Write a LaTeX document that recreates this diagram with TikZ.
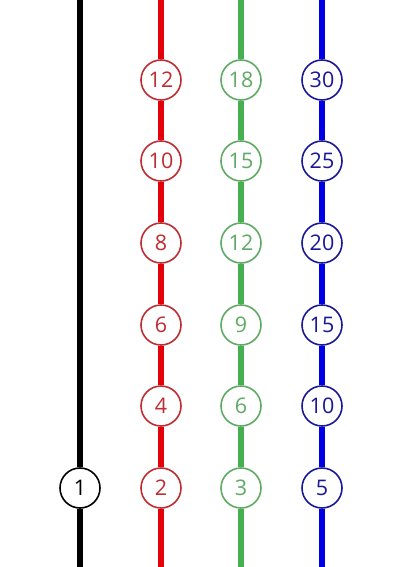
\documentclass[tikz,border=0pt]{standalone}
\usepackage{fontspec}
\setmainfont{Open Sans}
\usepackage{tikz}
\usetikzlibrary{calc}

\definecolor{lineblack}{RGB}{0,0,0}
\definecolor{linered}{RGB}{228,0,10}
\definecolor{linegreen}{RGB}{70,175,80}
\definecolor{lineblue}{RGB}{0,0,230}
\definecolor{ringred}{RGB}{190,45,50}
\definecolor{ringgreen}{RGB}{95,170,100}
\definecolor{ringblue}{RGB}{25,25,150}

\tikzset{
  stop/.style={circle, draw=#1, text=#1, fill=white, line width=1.6pt,
    minimum size=40pt, inner sep=0pt, font=\fontsize{21.5}{21.5}\selectfont},
  rail/.style={line width=5.5pt, draw=#1}
}

\begin{document}
\begin{tikzpicture}[x=1pt,y=-1pt]
    \useasboundingbox (0,0) rectangle (405,567);

    % ends of the rails
    \coordinate (ktop) at (80,0);   \coordinate (kbot) at (80,567);
    \coordinate (rtop) at (161,0);  \coordinate (rbot) at (161,567);
    \coordinate (gtop) at (241,0);  \coordinate (gbot) at (241,567);
    \coordinate (btop) at (322,0);  \coordinate (bbot) at (322,567);

    \node [stop=black] (k1) at (80,488) {1};

    \node [stop=ringred] (r12) at (161,80) {12};
    \node [stop=ringred] (r10) at (161,161) {10};
    \node [stop=ringred] (r8) at (161,243) {8};
    \node [stop=ringred] (r6) at (161,325) {6};
    \node [stop=ringred] (r4) at (161,406) {4};
    \node [stop=ringred] (r2) at (161,488) {2};

    \node [stop=ringgreen] (g18) at (241,80) {18};
    \node [stop=ringgreen] (g15) at (241,161) {15};
    \node [stop=ringgreen] (g12) at (241,243) {12};
    \node [stop=ringgreen] (g9) at (241,325) {9};
    \node [stop=ringgreen] (g6) at (241,406) {6};
    \node [stop=ringgreen] (g3) at (241,488) {3};

    \node [stop=ringblue] (b30) at (322,80) {30};
    \node [stop=ringblue] (b25) at (322,161) {25};
    \node [stop=ringblue] (b20) at (322,243) {20};
    \node [stop=ringblue] (b15) at (322,325) {15};
    \node [stop=ringblue] (b10) at (322,406) {10};
    \node [stop=ringblue] (b5) at (322,488) {5};

    \draw [rail=lineblack] (ktop) -- (k1) -- (kbot);
    \draw [rail=linered] (rtop) -- (r12) -- (r10) -- (r8) -- (r6) -- (r4) -- (r2) -- (rbot);
    \draw [rail=linegreen] (gtop) -- (g18) -- (g15) -- (g12) -- (g9) -- (g6) -- (g3) -- (gbot);
    \draw [rail=lineblue] (btop) -- (b30) -- (b25) -- (b20) -- (b15) -- (b10) -- (b5) -- (bbot);
\end{tikzpicture}
\end{document}
